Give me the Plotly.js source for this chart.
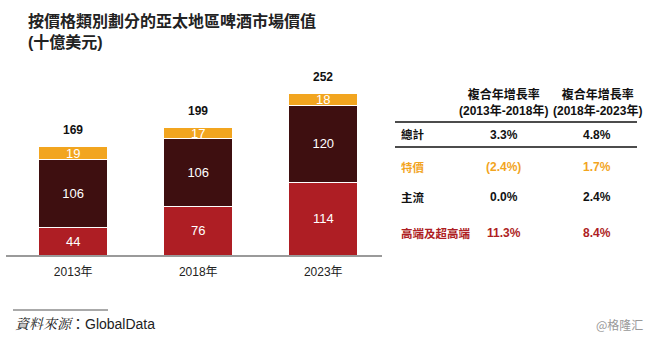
<!DOCTYPE html>
<html>
<head>
<meta charset="utf-8">
<script src="https://cdn.plot.ly/plotly-3.0.1.min.js"></script>
<style>html,body{margin:0;padding:0;background:#fff;}#chart{width:650px;height:338px;}</style>
</head>
<body>
<div id="chart"></div>
<script>
// ---- data ----
const years = ['2013年', '2018年', '2023年'];
const premium = [44, 76, 114];      // 高端及超高端
const mainstream = [106, 106, 120]; // 主流
const discount = [19, 17, 18];      // 特價
const totals = [169, 199, 252];

const tableRows = ['總計', '特價', '主流', '高端及超高端'];
const cagr1 = ['3.3%', '(2.4%)', '0.0%', '11.3%'];
const cagr2 = ['4.8%', '1.7%', '2.4%', '8.4%'];
const colHeaders = ['複合年增長率<br>(2013年-2018年)', '複合年增長率<br>(2018年-2023年)'];

// ---- style ----
const W = 650, H = 338;
const FONT = 'Liberation Sans, Arial, "Noto Sans CJK TC", sans-serif';
const RED = '#AE1E24', DARK = '#3E0F10', ORANGE = '#F2A51F';
const px = x => x / W;
const py = y => 1 - y / H;

function barTrace(name, vals, color) {
  return {
    type: 'bar', name: name, x: years, y: vals,
    width: 0.548,
    marker: {color: color, line: {color: '#ffffff', width: 1}},
    text: vals.map(String), textposition: 'inside', insidetextanchor: 'middle',
    constraintext: 'none', textangle: 0,
    textfont: {color: '#ffffff', size: 13, family: FONT},
    hoverinfo: 'skip'
  };
}

const data = [
  barTrace('高端及超高端', premium, RED),
  barTrace('主流', mainstream, DARK),
  barTrace('特價', discount, ORANGE)
];

const annotations = [];
// totals above bars
years.forEach((c, i) => {
  annotations.push({x: c, y: totals[i], xref: 'x', yref: 'y', text: '<b>' + totals[i] + '</b>',
    showarrow: false, yanchor: 'middle', yshift: 17, font: {size: 12, color: '#111', family: FONT}});
});

// table
const colX = [504, 597];
colHeaders.forEach((h, j) => {
  annotations.push({xref: 'paper', yref: 'paper', x: px(colX[j]), y: py(102.5), text: '<b>' + h + '</b>',
    showarrow: false, xanchor: 'center', yanchor: 'middle',
    font: {size: 12, color: '#111', family: FONT}});
});
const rowY = [135, 167, 197, 233];
const rowColor = ['#111', ORANGE, '#111', RED];
tableRows.forEach((r, i) => {
  annotations.push({xref: 'paper', yref: 'paper', x: px(399), y: py(rowY[i]), text: '<b>' + r + '</b>',
    showarrow: false, xanchor: 'left', yanchor: 'middle', font: {size: 11.5, color: rowColor[i], family: FONT}});
  [cagr1[i], cagr2[i]].forEach((v, j) => {
    annotations.push({xref: 'paper', yref: 'paper', x: px(colX[j]), y: py(rowY[i]), text: '<b>' + v + '</b>',
      showarrow: false, xanchor: 'center', yanchor: 'middle', font: {size: 12, color: rowColor[i], family: FONT}});
  });
});

// footer
annotations.push({xref: 'paper', yref: 'paper', x: px(13), y: py(324), xanchor: 'left', yanchor: 'middle', showarrow: false,
  text: '<span style="font-family:\'Liberation Serif\', \'Noto Serif CJK TC\', serif"><i>資料來源</i></span>：GlobalData',
  font: {size: 14, color: '#222', family: FONT}});
annotations.push({xref: 'paper', yref: 'paper', x: px(645), y: py(324), xanchor: 'right', yanchor: 'middle', showarrow: false,
  text: '@格隆汇', font: {size: 12, color: '#999', family: '"Noto Sans CJK SC", sans-serif'}});

const shapes = [
  {type: 'line', xref: 'paper', yref: 'paper', x0: px(395), x1: px(637), y0: py(122), y1: py(122), line: {color: '#111', width: 1.5}},
  {type: 'line', xref: 'paper', yref: 'paper', x0: px(395), x1: px(637), y0: py(147), y1: py(147), line: {color: '#111', width: 1.5}},
  {type: 'line', xref: 'paper', yref: 'paper', x0: px(13), x1: px(108), y0: py(310), y1: py(310), line: {color: '#555', width: 1}}
];

const layout = {
  width: W, height: H,
  margin: {l: 0, r: 0, t: 0, b: 0},
  paper_bgcolor: '#fff', plot_bgcolor: '#fff',
  showlegend: false,
  barmode: 'stack',
  font: {family: FONT},
  title: {text: '<b>按價格類別劃分的亞太地區啤酒市場價值<br>(十億美元)</b>', xref: 'container', yref: 'container',
    x: px(28), xanchor: 'left', y: py(27), yanchor: 'top',
    font: {size: 16, color: '#222', family: FONT}},
  xaxis: {domain: [px(6), px(382)], range: [-0.5376, 2.470], showline: true, linecolor: '#9a9a9a', linewidth: 1.5,
    ticks: '', ticklabelstandoff: 5, showgrid: false, zeroline: false, tickfont: {size: 12, color: '#222', family: FONT}, fixedrange: true},
  yaxis: {domain: [py(255.3), py(60)], range: [0, 304.7], visible: false, fixedrange: true},
  annotations: annotations,
  shapes: shapes
};

Plotly.newPlot('chart', data, layout, {displayModeBar: false, staticPlot: true});
</script>
</body>
</html>
